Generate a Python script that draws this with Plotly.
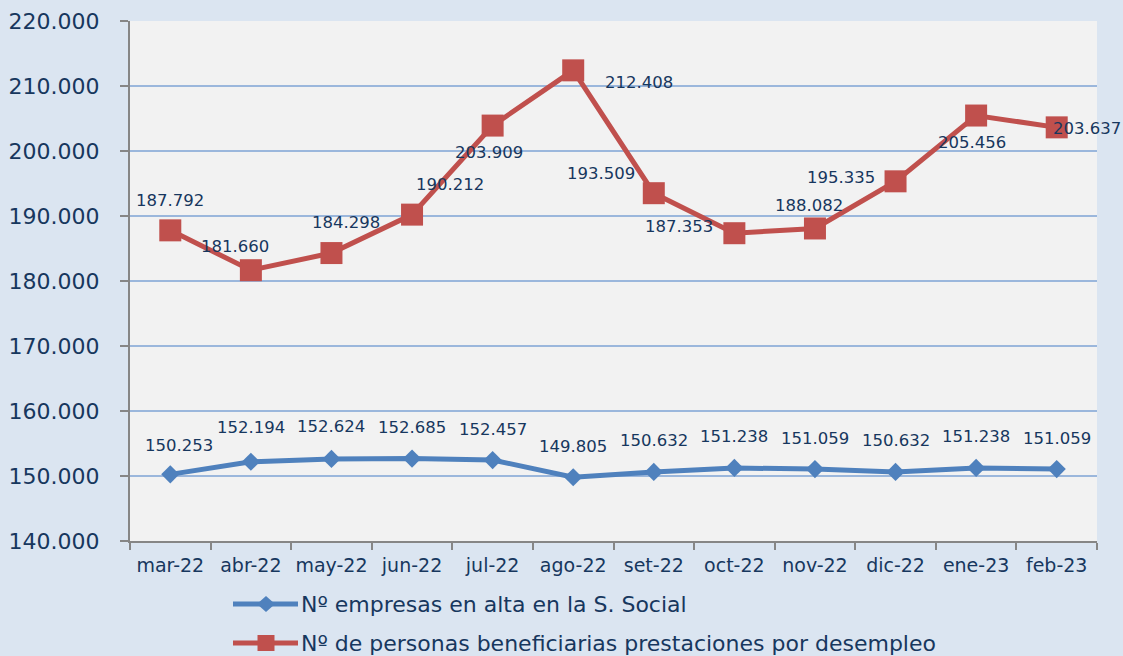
import plotly.graph_objects as go

categories = ["mar-22", "abr-22", "may-22", "jun-22", "jul-22", "ago-22",
              "set-22", "oct-22", "nov-22", "dic-22", "ene-23", "feb-23"]
empresas = [150253, 152194, 152624, 152685, 152457, 149805,
            150632, 151238, 151059, 150632, 151238, 151059]
beneficiarias = [187792, 181660, 184298, 190212, 203909, 212408,
                 193509, 187353, 188082, 195335, 205456, 203637]
name_emp = "Nº empresas en alta en la S. Social"
name_ben = "Nº de personas beneficiarias prestaciones por desempleo"

# label offsets (px) relative to each point: (xshift, yshift)
ben_label_off = [(0, 30), (-16, 24), (15, 31), (38, 30), (-4, -27), (66, -12),
                 (-53, 20), (-55, 7), (-6, 23), (-55, 4), (-4, -27), (30, -1)]
emp_label_off = [(9, 29), (0, 34), (0, 32), (0, 31), (0, 31), (0, 31),
                 (0, 31), (0, 31), (0, 31), (0, 31), (0, 31), (0, 31)]

BLUE = "#4f81bd"
RED = "#c0504d"
TXT = "#17375e"
FONT = "DejaVu Sans"

def fmt(v):
    return f"{v:,}".replace(",", ".")

fig = go.Figure()
fig.add_trace(go.Scatter(x=categories, y=empresas, mode="lines+markers", name=name_emp,
                         line=dict(color=BLUE, width=5),
                         marker=dict(symbol="diamond", size=14, color=BLUE),
                         showlegend=False))
fig.add_trace(go.Scatter(x=categories, y=beneficiarias, mode="lines+markers", name=name_ben,
                         line=dict(color=RED, width=5),
                         marker=dict(symbol="square", size=22, color=RED),
                         showlegend=False))

annotations = []
for c, v, (dx, dy) in zip(categories, beneficiarias, ben_label_off):
    annotations.append(dict(x=c, y=v, xref="x", yref="y", text=fmt(v), showarrow=False,
                            xshift=dx, yshift=dy, font=dict(family=FONT, size=16.5, color=TXT)))
for c, v, (dx, dy) in zip(categories, empresas, emp_label_off):
    annotations.append(dict(x=c, y=v, xref="x", yref="y", text=fmt(v), showarrow=False,
                            xshift=dx, yshift=dy, font=dict(family=FONT, size=16.5, color=TXT)))

# custom legend (paper coords)
L = 130; W = 967; T = 21; H = 520
def px(xp): return (xp - L) / W
def py(yp): return (T + H - yp) / H

shapes = []
rows = [(604, BLUE, "diamond", name_emp), (643, RED, "square", name_ben)]
for yy, col, sym, nm in rows:
    shapes.append(dict(type="line", xref="paper", yref="paper",
                       x0=px(233), x1=px(298), y0=py(yy), y1=py(yy),
                       line=dict(color=col, width=5), layer="above"))
    cx = 266
    if sym == "diamond":
        path = (f"M{px(cx-9)},{py(yy)} L{px(cx)},{py(yy-8)} L{px(cx+9)},{py(yy)} "
                f"L{px(cx)},{py(yy+8)} Z")
        shapes.append(dict(type="path", xref="paper", yref="paper", path=path,
                           fillcolor=col, line=dict(color=col, width=0), layer="above"))
    else:
        shapes.append(dict(type="rect", xref="paper", yref="paper",
                           x0=px(cx-8.5), x1=px(cx+8.5), y0=py(yy+8), y1=py(yy-8),
                           fillcolor=col, line=dict(color=col, width=0), layer="above"))
    annotations.append(dict(x=px(299), y=py(yy), xref="paper", yref="paper", text=nm,
                            showarrow=False, xanchor="left", yanchor="middle",
                            font=dict(family=FONT, size=22, color=TXT)))

fig.update_layout(
    width=1123, height=656,
    margin=dict(l=130, r=26, t=21, b=115),
    paper_bgcolor="#dbe5f1",
    plot_bgcolor="#f2f2f2",
    separators=",.",
    showlegend=False,
    annotations=annotations,
    shapes=shapes,
    font=dict(family=FONT, color=TXT),
)
fig.update_yaxes(range=[140000, 220000], dtick=10000, tickformat=",.0f",
                 showgrid=True, gridcolor="#9bb7dc", gridwidth=1.5,
                 showline=True, linecolor="#868686", linewidth=2,
                 ticks="outside", ticklen=8, tickcolor="#868686", tickwidth=2,
                 ticklabelstandoff=16, zeroline=False, automargin=False,
                 tickfont=dict(family=FONT, size=22, color=TXT))
fig.update_xaxes(type="category", range=[-0.5, 11.5], showgrid=False,
                 showline=True, linecolor="#868686", linewidth=2,
                 ticks="outside", ticklen=7, tickcolor="#868686", tickwidth=2,
                 tickson="boundaries", ticklabelstandoff=6, tickangle=0, automargin=False,
                 tickfont=dict(family=FONT, size=19, color=TXT))

fig.write_html("out.html", config={"displayModeBar": False},
               post_script="document.body.style.margin='0';document.body.style.overflow='hidden';")
